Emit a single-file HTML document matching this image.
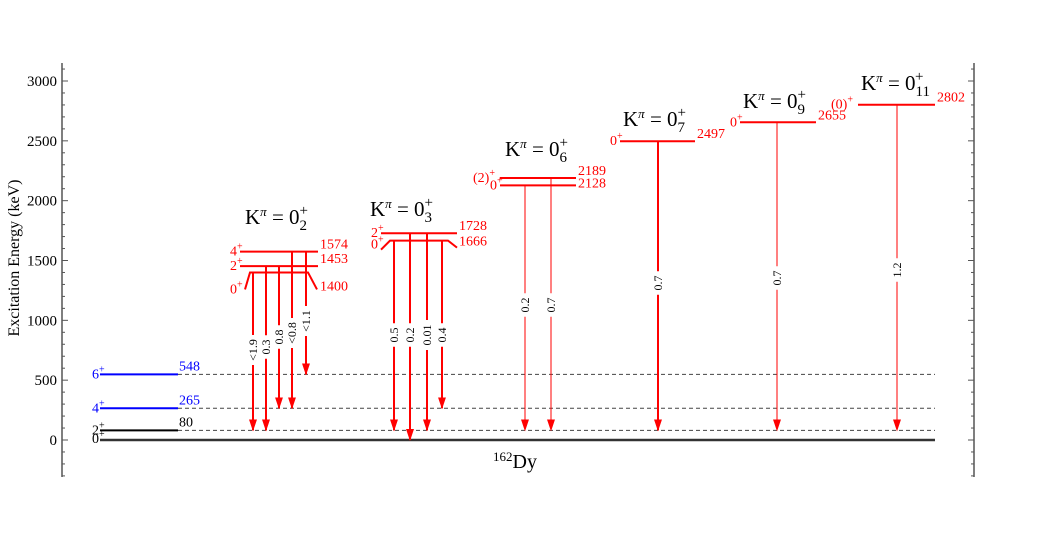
<!DOCTYPE html>
<html><head><meta charset="utf-8"><style>
html,body{margin:0;padding:0;background:#fff;width:1037px;height:540px;overflow:hidden}
svg{font-family:"Liberation Serif",serif}
</style></head><body>
<svg id="chart" width="1037" height="540" viewBox="0 0 1037 540" xmlns="http://www.w3.org/2000/svg">
<defs><marker id="ah" viewBox="0 0 12 8" refX="11" refY="4" markerWidth="12" markerHeight="8" markerUnits="userSpaceOnUse" orient="auto"><path d="M0,0 L12,4 L0,8 z" fill="#f00"/></marker></defs>
<g id="axes"></g><g id="levels"></g><g id="trans"></g><g id="labels"></g>
</svg>
<script>
const NS="http://www.w3.org/2000/svg";
const yTicks=[0,500,1000,1500,2000,2500,3000];
const gsbLevels=[0,80,265,548];
const gsbSpins=["0","2","4","6"];
const bandNames=["2","3","6","7","9","11"];
const bandLevels=[[1400,1453,1574],[1666,1728],[2128,2189],[2497],[2655],[2802]];
const bandSpins=[["0","2","4"],["0","2"],["0","(2)"],["0"],["0"],["(0)"]];
const transFrom=[1400,1453,1453,1574,1574,1666,1728,1728,1666,2128,2189,2497,2655,2802];
const transTo=[80,80,265,265,548,80,0,80,265,80,80,80,80,80];
const transLabels=["<1.9","0.3","0.8","<0.8","<1.1","0.5","0.2","0.01","0.4","0.2","0.7","0.7","0.7","1.2"];

const Y=e=>440-e*(359/3000);
function mk(tag,attrs,parent,text){const el=document.createElementNS(NS,tag);for(const k in attrs)el.setAttribute(k,attrs[k]);if(text!==undefined)el.textContent=text;document.getElementById(parent).appendChild(el);return el;}
function sup(t,txt){const s=document.createElementNS(NS,'tspan');s.setAttribute('dy',-6);s.setAttribute('font-size',10);s.textContent=txt;t.appendChild(s);}

// axes
let a=mk('line',{x1:62,y1:63,x2:62,y2:477,stroke:'#555','stroke-width':1.5},'axes');


a=mk('line',{x1:974,y1:63,x2:974,y2:477,stroke:'#555','stroke-width':1.5},'axes');


for(let e=-300;e<=3100;e+=100){const maj=e%500===0;const y=Y(e);
 mk('line',{x1:62,y1:y,x2:62+(maj?6:3),y2:y,stroke:'#555'},'axes');
 mk('line',{x1:974,y1:y,x2:974-(maj?6:3),y2:y,stroke:'#555'},'axes');}
yTicks.forEach(t=>{const el=mk('text',{x:57,y:Y(t)+5,'text-anchor':'end','font-size':15},'axes',t);
 
 });
a=mk('text',{x:0,y:0,'font-size':16,'text-anchor':'middle',transform:'translate(19,258) rotate(-90)'},'axes','Excitation Energy (keV)');



// ground band
mk('line',{x1:100,y1:Y(0),x2:935,y2:Y(0),stroke:'#333','stroke-width':2.5},'levels');
gsbLevels.forEach((e,i)=>{const y=Y(e);const col=i>=2?'#00f':'#000';
 if(i>0){const l=mk('line',{x1:100,y1:y,x2:178,y2:y,stroke:col,'stroke-width':2},'levels');
  
  
  mk('line',{x1:178,y1:y,x2:935,y2:y,stroke:'#444','stroke-dasharray':'4,3'},'levels');
  mk('text',{x:179,y:y-4,'font-size':14,fill:col},'labels',e);}
 const t=mk('text',{x:92,y:y+(i===0?3:4),'font-size':14,fill:col},'labels',gsbSpins[i]);
 sup(t,'+');});

// bands
const bx=[[240,318],[381,457],[500,576],[620,695],[740,816],[858,935]];
const kx=[[245,224],[370,216],[505,156],[623,126],[743,108],[861,90]];
bandLevels.forEach((lv,b)=>{const[x1,x2]=bx[b];
 lv.forEach((e,i)=>{const y=Y(e);
  let el;
  if(i===0&&b<2){el=mk('polyline',{points:`${x1+5},${y+17} ${x1+10},${y} ${x2-10},${y} ${x2-1},${y+17}`,fill:'none',stroke:'#f00','stroke-width':2},'levels');
   if(b===1)el.setAttribute('points',`${x1},${y+9} ${x1+9},${y} ${x2-9},${y} ${x2},${y+7}`);}
  else el=mk('line',{x1:x1,y1:y,x2:x2,y2:y,stroke:'#f00','stroke-width':2},'levels');
  
  
  let ly=y-3,sy=y+4;
  if(b===0&&i===0){ly=y+18;sy=y+21;}
  if(b===1&&i===0){ly=y+5;sy=y+8;}
  if(b===2&&i===0){ly=y+2;}
  mk('text',{x:x2+2,y:ly,'font-size':14,fill:'#f00'},'labels',e);
  const sx=(bandSpins[b][i].length>1)?x1-27:x1-10;
  const t=mk('text',{x:sx,y:sy,'font-size':14,fill:'#f00'},'labels',bandSpins[b][i]);
  sup(t,'+');});
 const k=mk('text',{x:kx[b][0],y:kx[b][1],'font-size':21},'labels','K');
 
 
 const p=document.createElementNS(NS,'tspan');p.setAttribute('dy',-8);p.setAttribute('font-size',13);p.setAttribute('font-style','italic');p.textContent='π';k.appendChild(p);
 const q=document.createElementNS(NS,'tspan');q.setAttribute('dy',8);q.textContent=' = 0';k.appendChild(q);
 const sub=document.createElementNS(NS,'tspan');sub.setAttribute('dy',6);sub.setAttribute('font-size',15);sub.textContent=bandNames[b];k.appendChild(sub);
 const w=bandNames[b].length*7.5;
 const sp=document.createElementNS(NS,'tspan');sp.setAttribute('dx',-w);sp.setAttribute('dy',-15);sp.setAttribute('font-size',15);sp.textContent='+';k.appendChild(sp);
});

// transitions
const tx=[253,266,279,292,306,394,410,427,442,525,551,658,777,897];
const tw=[2,2,2,2,2,2,2,2,2,1,1,2,1,1];
transFrom.forEach((f,i)=>{const y1=Y(f),y2=Y(transTo[i]);
 const l=mk('line',{x1:tx[i],y1:y1,x2:tx[i],y2:y2,stroke:'#f00','stroke-width':tw[i],'marker-end':'url(#ah)'},'trans');
 
 
 const cy=(i<5)?[350,347,337,333,321][i]:(i<9?335:(i<11?305:[283,278,270][i-11]));
 const len=transLabels[i].length*6.5+4;
 mk('rect',{x:tx[i]-6,y:cy-len/2,width:12,height:len,fill:'#fff'},'trans');
 const t=mk('text',{x:0,y:0,'font-size':12,'text-anchor':'middle',transform:`translate(${tx[i]+4},${cy}) rotate(-90)`},'trans',transLabels[i]);
 
 });

const dy=mk('text',{x:493,y:468,'font-size':20},'labels','');


const m=document.createElementNS(NS,'tspan');m.setAttribute('font-size',13);m.setAttribute('dy',-7);m.textContent='162';dy.appendChild(m);
const d2=document.createElementNS(NS,'tspan');d2.setAttribute('dy',7);d2.textContent='Dy';dy.appendChild(d2);
</script>
</body></html>
